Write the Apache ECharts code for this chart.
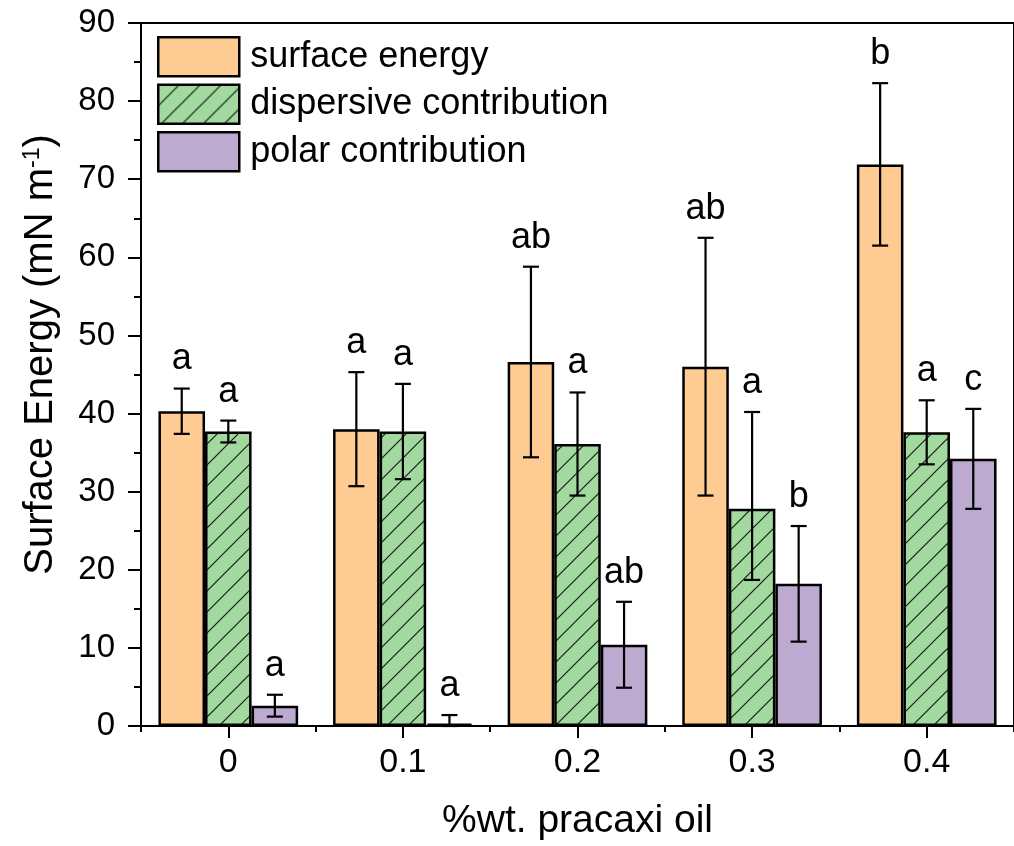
<!DOCTYPE html>
<html>
<head>
<meta charset="utf-8">
<script src="https://cdn.jsdelivr.net/npm/echarts@6/dist/echarts.min.js"></script>
<style>html,body{margin:0;padding:0;background:#fff}#c{width:1014px;height:846px}</style>
</head>
<body>
<div id="c"></div>
<script>
const categories = ['0', '0.1', '0.2', '0.3', '0.4'];
const seriesNames = ['surface energy', 'dispersive contribution', 'polar contribution'];
const surface = [40.3, 38.0, 46.6, 46.0, 71.9];
const surfaceErrUp = [2.9, 7.3, 12.2, 16.5, 10.4];
const surfaceErrDown = [2.9, 7.3, 12.2, 16.5, 10.4];
const dispersive = [37.7, 37.7, 36.1, 27.8, 37.6];
const dispersiveErrUp = [1.4, 6.1, 6.6, 12.4, 4.1];
const dispersiveErrDown = [1.4, 6.1, 6.6, 9.1, 4.1];
const polar = [2.6, 0.3, 10.4, 18.2, 34.2];
const polarErrUp = [1.4, 1.1, 5.5, 7.4, 6.4];
const polarErrDown = [1.4, 1.1, 5.5, 7.4, 6.4];
const surfaceLetters = ['a', 'a', 'ab', 'ab', 'b'];
const dispersiveLetters = ['a', 'a', 'a', 'a', 'a'];
const polarLetters = ['a', 'a', 'ab', 'b', 'c'];

const FONT = '"Liberation Sans", Arial, sans-serif';
const values = [surface, dispersive, polar];
const errUp = [surfaceErrUp, dispersiveErrUp, polarErrUp];
const errDown = [surfaceErrDown, dispersiveErrDown, polarErrDown];
const letters = [surfaceLetters, dispersiveLetters, polarLetters];

// hatch pattern for dispersive
const pc = document.createElement('canvas');
const T = 21;
pc.width = T; pc.height = T;
const g = pc.getContext('2d');
g.fillStyle = '#A1D99F';
g.fillRect(0, 0, T, T);
g.strokeStyle = '#1a1a1a';
g.lineWidth = 1.2;
g.beginPath();
g.moveTo(-2, T + 2); g.lineTo(T + 2, -2);
g.moveTo(-2, 2); g.lineTo(2, -2);
g.moveTo(T - 2, T + 2); g.lineTo(T + 2, T - 2);
g.stroke();

const colors = ['#FECC93', { image: pc, repeat: 'repeat' }, '#BCAAD1'];

const errData = [];
for (let s = 0; s < 3; s++) {
  for (let i = 0; i < categories.length; i++) {
    errData.push([i, s, values[s][i], errUp[s][i], errDown[s][i], letters[s][i]]);
  }
}

const barSeries = seriesNames.map((name, s) => ({
  name: name,
  type: 'bar',
  data: values[s],
  barGap: '0%',
  barCategoryGap: '20%',
  itemStyle: { color: colors[s], borderColor: '#000', borderWidth: 2.5 },
  z: 2
}));

const errSeries = {
  type: 'custom',
  data: errData,
  encode: { x: 0, y: 2 },
  z: 5,
  silent: true,
  renderItem: function (params, api) {
    const cat = api.value(0), s = api.value(1), v = api.value(2), eu = api.value(3), ed = api.value(4);
    const band = api.size([1, 0])[0];
    const bw = band * 0.8 / 3;
    const off = (s - 1) * bw;
    const top = api.coord([cat, v + eu]);
    const bot = api.coord([cat, Math.max(v - ed, 0)]);
    const x = top[0] + off;
    const cap = 8;
    const st = { stroke: '#000', lineWidth: 2.2 };
    const d = errData[params.dataIndex];
    return {
      type: 'group',
      children: [
        { type: 'line', shape: { x1: x, y1: top[1], x2: x, y2: bot[1] }, style: st },
        { type: 'line', shape: { x1: x - cap, y1: top[1], x2: x + cap, y2: top[1] }, style: st },
        { type: 'line', shape: { x1: x - cap, y1: bot[1], x2: x + cap, y2: bot[1] }, style: st },
        { type: 'text', style: { x: x, y: top[1] - 11, text: d[5], fill: '#000', font: '36px ' + FONT, textAlign: 'center', textVerticalAlign: 'bottom' } }
      ]
    };
  }
};

const chart = echarts.init(document.getElementById('c'), null, { renderer: 'canvas' });
chart.setOption({
  backgroundColor: '#fff',
  animation: false,
  textStyle: { fontFamily: FONT },
  grid: { left: 141, right: -6, top: 23, bottom: 115, show: true, borderColor: '#000', borderWidth: 2, backgroundColor: 'transparent' },
  legend: {
    orient: 'vertical',
    left: 157, top: 36,
    padding: 0,
    itemWidth: 81, itemHeight: 39, itemGap: 6,
    icon: 'rect',
    data: seriesNames,
    itemStyle: { borderColor: '#000', borderWidth: 2.5 },
    textStyle: { fontSize: 36, color: '#000', fontFamily: FONT, padding: [0, 0, 0, 6] }
  },
  xAxis: [{
    type: 'category',
    data: categories,
    position: 'bottom',
    name: '%wt. pracaxi oil',
    nameLocation: 'middle',
    nameGap: 76,
    nameTextStyle: { fontSize: 39, color: '#000', fontFamily: FONT },
    axisLine: { show: true, lineStyle: { color: '#000', width: 2 } },
    axisTick: { show: true, alignWithLabel: true, length: 12, lineStyle: { color: '#000', width: 2 } },
    axisLabel: { fontSize: 34, color: '#000', margin: 20, fontFamily: FONT },
    splitLine: { show: false }
  }, {
    type: 'category',
    data: categories,
    position: 'bottom',
    axisLine: { show: false },
    axisTick: { show: true, alignWithLabel: false, length: 6, lineStyle: { color: '#000', width: 2 } },
    axisLabel: { show: false },
    splitLine: { show: false }
  }],
  yAxis: {
    type: 'value',
    min: 0, max: 90, interval: 10,
    name: 'Surface Energy (mN m{sup|-1})',
    nameLocation: 'middle',
    nameGap: 80,
    nameTextStyle: {
      fontSize: 40, color: '#000', fontFamily: FONT,
      padding: [0, 0, 0, 40],
      rich: { sup: { fontSize: 23, color: '#000', fontFamily: FONT, verticalAlign: 'top', lineHeight: 40 } }
    },
    axisLine: { show: true, lineStyle: { color: '#000', width: 2 } },
    axisTick: { show: true, length: 13, lineStyle: { color: '#000', width: 2 } },
    minorTick: { show: true, splitNumber: 2, length: 7, lineStyle: { color: '#000', width: 2 } },
    axisLabel: { fontSize: 33, color: '#000', margin: 26, fontFamily: FONT },
    splitLine: { show: false }
  },
  series: barSeries.concat([errSeries])
});
</script>
</body>
</html>
